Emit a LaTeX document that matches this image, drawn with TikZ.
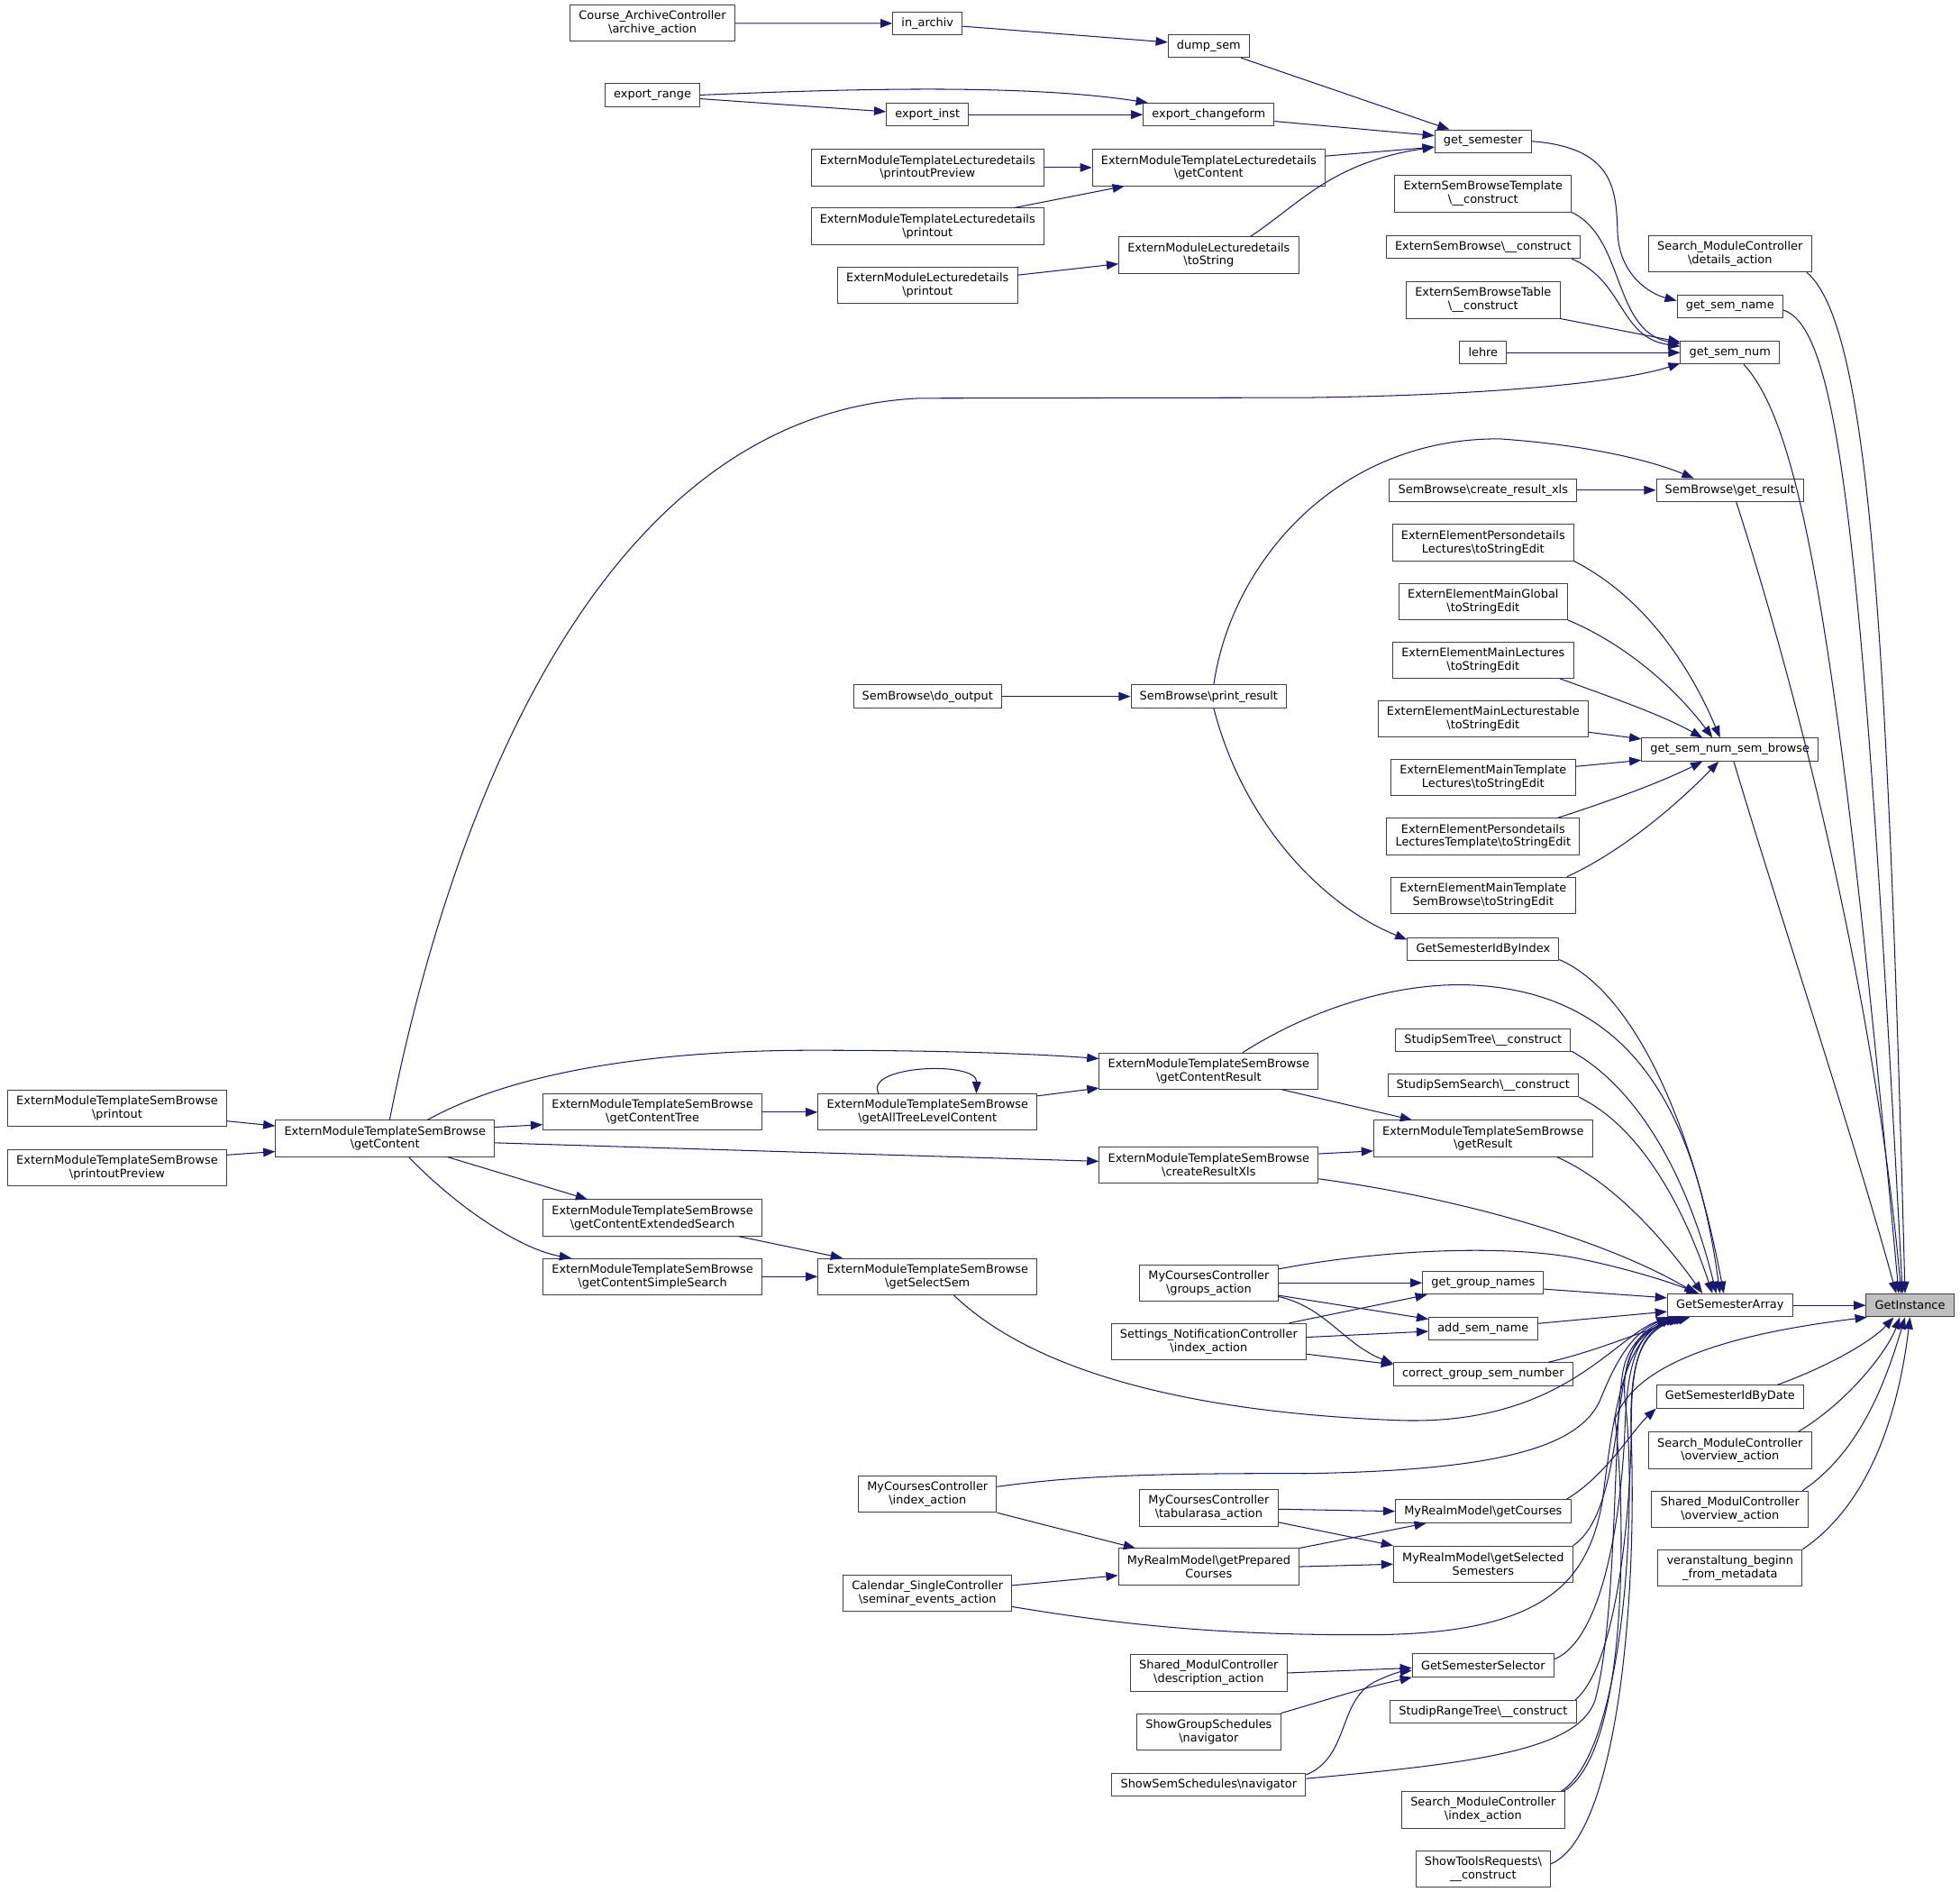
\documentclass[tikz,border=0pt]{standalone}
\usepackage{fontspec}
\setmainfont{DejaVu Sans}
\usetikzlibrary{arrows.meta}
\definecolor{edgeblue}{RGB}{25,25,112}
\newcommand{\bsl}{\textbackslash}
\newcommand{\nfont}{\fontsize{9.3pt}{10.7pt}\selectfont}
\tikzset{
  box/.style={draw=black!75, line width=0.7pt, fill=white, font=\nfont, inner xsep=7pt, inner ysep=0pt, minimum height=18.3pt, align=center},
  two/.style={minimum height=29pt},
  edge/.style={draw=edgeblue, line width=0.75pt, -{Triangle[length=9.5pt,width=7pt]}},
}
\begin{document}
\begin{tikzpicture}[x=1pt,y=-1pt]
\useasboundingbox[fill=white] (0,0) rectangle (1568,1513);
% ---- nodes
\node[box,two] (cac) at (522,18.6) {Course\_ArchiveController\\\bsl archive\_action};
\node[box] (inarch) at (742,18.7) {in\_archiv};
\node[box] (dump) at (967,36.8) {dump\_sem};
\node[box] (exrange) at (522,76) {export\_range};
\node[box] (exinst) at (742,91.7) {export\_inst};
\node[box] (exchg) at (967,91.7) {export\_changeform};
\node[box,two] (ldpp) at (742,134) {ExternModuleTemplateLecturedetails\\\bsl printoutPreview};
\node[box,two] (ldgc) at (967,134) {ExternModuleTemplateLecturedetails\\\bsl getContent};
\node[box,two] (ldpo) at (742,181) {ExternModuleTemplateLecturedetails\\\bsl printout};
\node[box,two] (mlts) at (967,204) {ExternModuleLecturedetails\\\bsl toString};
\node[box,two] (mlpo) at (742,228) {ExternModuleLecturedetails\\\bsl printout};
\node[box] (getsem) at (1186.5,113) {get\_semester};
\node[box,two] (esbt) at (1186.5,155) {ExternSemBrowseTemplate\\\bsl\_\_construct};
\node[box] (esb) at (1186.5,197.5) {ExternSemBrowse\bsl\_\_construct};
\node[box,two] (esbtab) at (1186.5,240) {ExternSemBrowseTable\\\bsl\_\_construct};
\node[box] (lehre) at (1186.5,282) {lehre};
\node[box,two] (smdet) at (1384,203) {Search\_ModuleController\\\bsl details\_action};
\node[box] (gsname) at (1384,245) {get\_sem\_name};
\node[box] (gsnum) at (1384,282) {get\_sem\_num};
\node[box] (crxls) at (1186.5,392) {SemBrowse\bsl create\_result\_xls};
\node[box] (getres) at (1384,392) {SemBrowse\bsl get\_result};
\node[box,two] (ee1) at (1186.5,434) {ExternElementPersondetails\\Lectures\bsl toStringEdit};
\node[box,two] (ee2) at (1186.5,481) {ExternElementMainGlobal\\\bsl toStringEdit};
\node[box,two] (ee3) at (1186.5,528) {ExternElementMainLectures\\\bsl toStringEdit};
\node[box,two] (ee4) at (1186.5,575) {ExternElementMainLecturestable\\\bsl toStringEdit};
\node[box] (gsnsb) at (1384,599.5) {get\_sem\_num\_sem\_browse};
\node[box,two] (ee5) at (1186.5,622) {ExternElementMainTemplate\\Lectures\bsl toStringEdit};
\node[box,two] (ee6) at (1186.5,669) {ExternElementPersondetails\\LecturesTemplate\bsl toStringEdit};
\node[box,two] (ee7) at (1186.5,716) {ExternElementMainTemplate\\SemBrowse\bsl toStringEdit};
\node[box] (doout) at (742,557) {SemBrowse\bsl do\_output};
\node[box] (prres) at (967,557) {SemBrowse\bsl print\_result};
\node[box] (gsidx) at (1186.5,759) {GetSemesterIdByIndex};
\node[box] (sstree) at (1186.5,832) {StudipSemTree\bsl\_\_construct};
\node[box] (sssearch) at (1186.5,868) {StudipSemSearch\bsl\_\_construct};
\node[box,two] (getresult) at (1186.5,910.5) {ExternModuleTemplateSemBrowse\\\bsl getResult};
\node[box,two] (gcr) at (967,856.7) {ExternModuleTemplateSemBrowse\\\bsl getContentResult};
\node[box,two] (gatl) at (742,889.5) {ExternModuleTemplateSemBrowse\\\bsl getAllTreeLevelContent};
\node[box,two] (crx) at (967,931.8) {ExternModuleTemplateSemBrowse\\\bsl createResultXls};
\node[box,two] (gct) at (522,889.5) {ExternModuleTemplateSemBrowse\\\bsl getContentTree};
\node[box,two] (gces) at (522,974) {ExternModuleTemplateSemBrowse\\\bsl getContentExtendedSearch};
\node[box,two] (gcss) at (522,1021) {ExternModuleTemplateSemBrowse\\\bsl getContentSimpleSearch};
\node[box,two] (gss) at (742,1021) {ExternModuleTemplateSemBrowse\\\bsl getSelectSem};
\node[box,two] (sbgc) at (308,910.5) {ExternModuleTemplateSemBrowse\\\bsl getContent};
\node[box,two] (sbpo) at (93.7,886.6) {ExternModuleTemplateSemBrowse\\\bsl printout};
\node[box,two] (sbpp) at (93.7,933.7) {ExternModuleTemplateSemBrowse\\\bsl printoutPreview};
\node[box,two] (grp) at (967,1026) {MyCoursesController\\\bsl groups\_action};
\node[box,two] (setn) at (967,1073) {Settings\_NotificationController\\\bsl index\_action};
\node[box] (ggn) at (1186.5,1026) {get\_group\_names};
\node[box] (asn) at (1186.5,1062.5) {add\_sem\_name};
\node[box] (cgsn) at (1186.5,1099) {correct\_group\_sem\_number};
\node[box] (gsa) at (1384,1044) {GetSemesterArray};
\node[box,fill=black!25] (gi) at (1528,1044) {GetInstance};
\node[box] (gsdate) at (1384,1117) {GetSemesterIdByDate};
\node[box,two] (smov) at (1384,1160) {Search\_ModuleController\\\bsl overview\_action};
\node[box,two] (shov) at (1384,1207) {Shared\_ModulController\\\bsl overview\_action};
\node[box,two] (vb) at (1384,1254) {veranstaltung\_beginn\\\_from\_metadata};
\node[box,two] (mcidx) at (742,1195) {MyCoursesController\\\bsl index\_action};
\node[box,two] (mctab) at (967,1206) {MyCoursesController\\\bsl tabularasa\_action};
\node[box,two] (gpc) at (967,1253) {MyRealmModel\bsl getPrepared\\Courses};
\node[box,two] (cal) at (742,1274) {Calendar\_SingleController\\\bsl seminar\_events\_action};
\node[box] (gc) at (1186.5,1208.7) {MyRealmModel\bsl getCourses};
\node[box,two] (gselsem) at (1186.5,1251) {MyRealmModel\bsl getSelected\\Semesters};
\node[box,two] (shdesc) at (967,1338) {Shared\_ModulController\\\bsl description\_action};
\node[box,two] (sgs) at (967,1385) {ShowGroupSchedules\\\bsl navigator};
\node[box] (sss) at (967,1427.5) {ShowSemSchedules\bsl navigator};
\node[box] (gssel) at (1186.5,1332) {GetSemesterSelector};
\node[box] (srt) at (1186.5,1369) {StudipRangeTree\bsl\_\_construct};
\node[box,two] (smidx) at (1186.5,1447.5) {Search\_ModuleController\\\bsl index\_action};
\node[box,two] (str) at (1186.5,1494.7) {ShowToolsRequests\bsl\\\_\_construct};
% ---- edges (top part)
\draw[edge] (cac.east) -- (inarch.west);
\draw[edge] ([yshift=-2.3pt]inarch.east) -- ([yshift=3pt]dump.west);
\draw[edge] ([xshift=-7pt]dump.south east) -- ([xshift=12pt]getsem.north west);
\draw[edge] (exrange.east) .. controls (680,71) and (820,67) .. ([xshift=4pt]exchg.north west);
\draw[edge] ([yshift=-3pt]exrange.east) -- ([yshift=2.4pt]exinst.west);
\draw[edge] (exinst.east) -- (exchg.west);
\draw[edge] ([yshift=-5.3pt]exchg.east) -- ([yshift=4.5pt]getsem.west);
\draw[edge] (ldpp.east) -- (ldgc.west);
\draw[edge] ([xshift=-24pt]ldpo.north east) -- ([xshift=26pt]ldgc.south west);
\draw[edge] ([yshift=9.2pt]ldgc.east) -- ([yshift=-4.6pt]getsem.west);
\draw[edge] ([yshift=8pt]mlpo.east) -- ([yshift=-7pt]mlts.west);
\draw[edge] ([xshift=-39pt]mlts.north east) .. controls (1040,163) and (1065,130) .. ([yshift=-4.6pt]getsem.west);
\draw[edge] (getsem.east) .. controls (1290,118) and (1293,150) .. (1294,185) .. controls (1295,220) and (1320,235) .. ([yshift=-5pt]gsname.north west);
\draw[edge] (esbt.south east) .. controls (1300,190) and (1290,265) .. ([yshift=7pt]gsnum.west);
\draw[edge] ([xshift=-7pt]esb.south east) .. controls (1300,225) and (1295,270) .. ([yshift=5pt]gsnum.west);
\draw[edge] (esbtab.south east) -- ([yshift=8.5pt]gsnum.west);
\draw[edge] (lehre.east) -- (gsnum.west);
\draw[edge] ([xshift=3.7pt]sbgc.north) .. controls (360,650) and (480,330) .. (736,318.5) -- (1045,318) .. controls (1200,316) and (1300,305) .. ([yshift=-8.5pt]gsnum.west);
\draw[edge] ([xshift=-4pt]smdet.south east) .. controls (1495,260) and (1510,500) .. ([xshift=-4pt]gi.north);
\draw[edge] ([yshift=-3pt]gsname.east) .. controls (1470,262) and (1490,420) .. ([xshift=-6pt]gi.north);
\draw[edge] ([xshift=11pt]gsnum.south) .. controls (1440,340) and (1470,500) .. ([xshift=-9pt]gi.north);
\draw[edge] ([xshift=5pt]getres.south) .. controls (1440,560) and (1500,800) .. ([xshift=-7pt]gi.north);
\draw[edge] ([xshift=3pt]gsnsb.south) .. controls (1420,720) and (1480,900) .. ([xshift=-11pt]gi.north);
\draw[edge] (crxls.east) -- (getres.west);
\draw[edge] ([xshift=4pt]prres.north) .. controls (985,450) and (1070,350) .. (1200,351) .. controls (1270,356) and (1320,368) .. ([xshift=-29pt]getres.north);
\draw[edge] (doout.east) -- (prres.west);
\draw[edge] (ee1.south east) .. controls (1320,480) and (1355,540) .. ([xshift=-8pt]gsnsb.north);
\draw[edge] (ee2.south east) .. controls (1300,515) and (1340,550) .. ([xshift=-14pt]gsnsb.north);
\draw[edge] ([xshift=-11pt]ee3.south east) .. controls (1290,558) and (1330,572) .. ([xshift=-22pt]gsnsb.north);
\draw[edge] ([yshift=-10.6pt]ee4.east) -- ([yshift=-1pt]gsnsb.north west);
\draw[edge] ([yshift=9pt]ee5.east) -- ([yshift=1pt]gsnsb.south west);
\draw[edge] ([xshift=-18pt]ee6.north east) .. controls (1290,640) and (1330,625) .. ([xshift=-22pt]gsnsb.south);
\draw[edge] ([xshift=-7pt]ee7.north east) .. controls (1300,680) and (1345,640) .. ([xshift=-9pt]gsnsb.south);
\draw[edge] ([xshift=4pt]prres.south) .. controls (995,660) and (1060,725) .. ([yshift=-2pt]gsidx.north west);
% ---- middle part
\draw[edge] ([yshift=1pt]gsidx.south east) .. controls (1300,790) and (1350,880) .. ([xshift=-5pt]gsa.north);
\draw[edge] ([xshift=27pt]gcr.north) .. controls (1060,800) and (1130,785) .. (1180,788) .. controls (1300,795) and (1355,880) .. ([xshift=-8pt]gsa.north);
\draw[edge] ([yshift=1pt]sstree.south east) .. controls (1310,870) and (1350,940) .. ([xshift=-11pt]gsa.north);
\draw[edge] (sssearch.south east) .. controls (1310,900) and (1345,960) .. ([xshift=-14pt]gsa.north);
\draw[edge] ([xshift=59pt]gcr.south) -- ([xshift=31pt]getresult.north west);
\draw[edge] ([xshift=59pt]getresult.south) .. controls (1290,945) and (1330,990) .. ([xshift=-22pt]gsa.north);
\draw[edge] ([yshift=9pt]crx.east) -- ([yshift=-10pt]getresult.west);
\draw[edge] ([yshift=-11pt]crx.east) .. controls (1180,960) and (1290,995) .. ([xshift=-27pt]gsa.north);
\draw[edge] ([xshift=34pt]sbgc.north) .. controls (410,858) and (520,840) .. (650,840) .. controls (760,840) and (830,843) .. ([yshift=10pt]gcr.west);
\draw[edge] ([yshift=9pt]sbgc.east) -- ([yshift=-10pt]gct.west);
\draw[edge] (gct.east) -- (gatl.west);
\draw[edge] ([xshift=-39pt]gatl.north) .. controls (690,852) and (782,848) .. ([xshift=39pt]gatl.north);
\draw[edge] ([yshift=13pt]gatl.east) -- ([yshift=-13.5pt]gcr.west);
\draw[edge] ([yshift=-3.5pt]sbgc.east) -- ([yshift=3pt]crx.west);
\draw[edge] ([xshift=50pt]sbgc.south) -- ([xshift=-52pt]gces.north);
\draw[edge] ([xshift=19pt]sbgc.south) .. controls (370,970) and (420,1000) .. ([xshift=-65pt]gcss.north);
\draw[edge] ([yshift=-10pt]sbpo.east) -- ([yshift=10pt]sbgc.west);
\draw[edge] ([yshift=10pt]sbpp.east) -- ([yshift=-10.5pt]sbgc.west);
\draw[edge] ([xshift=69pt]gces.south) -- ([xshift=-68pt]gss.north);
\draw[edge] (gcss.east) -- (gss.west);
\draw[edge] ([xshift=21pt]gss.south) .. controls (830,1100) and (960,1130) .. (1120,1136) .. controls (1250,1140) and (1290,1070) .. ([xshift=1pt]gsa.south west);
\draw[edge] ([yshift=11pt]grp.east) .. controls (1100,1000) and (1200,995) .. (1260,1006) .. controls (1300,1014) and (1335,1025) .. ([xshift=-25pt]gsa.north);
\draw[edge] (grp.east) -- (ggn.west);
\draw[edge] ([yshift=-10pt]grp.east) -- ([yshift=7.5pt]asn.west);
\draw[edge] ([yshift=-11pt]grp.east) .. controls (1060,1045) and (1075,1075) .. ([yshift=-1pt]cgsn.north west);
\draw[edge] ([xshift=-14pt]setn.north east) -- ([xshift=4pt]ggn.south west);
\draw[edge] ([yshift=3.5pt]setn.east) -- ([yshift=-2.3pt]asn.west);
\draw[edge] ([yshift=-10pt]setn.east) -- ([yshift=7.7pt]cgsn.west);
\draw[edge] ([yshift=-5pt]ggn.east) -- ([yshift=6pt]gsa.west);
\draw[edge] ([yshift=4pt]asn.east) -- ([yshift=-5pt]gsa.west);
\draw[edge] ([xshift=52pt]cgsn.north) .. controls (1280,1080) and (1320,1062) .. ([xshift=-32pt]gsa.south);
\draw[edge] (gsa.east) -- (gi.west);
\draw[edge] ([xshift=38pt]gsdate.north) .. controls (1470,1090) and (1500,1070) .. ([xshift=-13pt]gi.south);
\draw[edge] ([xshift=-11pt]smov.north east) .. controls (1480,1120) and (1510,1080) .. ([xshift=-8pt]gi.south);
\draw[edge] ([xshift=-5pt]shov.north east) .. controls (1490,1160) and (1510,1100) .. ([xshift=-4pt]gi.south);
\draw[edge] (vb.north east) .. controls (1500,1200) and (1520,1120) .. (gi.south);
% ---- bottom part
\draw[edge] ([yshift=6pt]mcidx.east) .. controls (850,1182) and (900,1178) .. (1045,1178.5) .. controls (1190,1176) and (1262,1160) .. (1280,1120) .. controls (1292,1090) and (1305,1066) .. ([xshift=2pt]gsa.south west);
\draw[edge] (mcidx.south east) -- ([xshift=14pt]gpc.north west);
\draw[edge] ([yshift=-1pt]mctab.east) -- (gc.west);
\draw[edge] ([yshift=-11.5pt]mctab.east) -- (gselsem.north west);
\draw[edge] (gpc.north east) -- ([xshift=25pt]gc.south west);
\draw[edge] (gpc.east) -- (gselsem.west);
\draw[edge] ([yshift=6pt]cal.east) -- ([yshift=-7pt]gpc.west);
\draw[edge] ([yshift=-11pt]cal.east) .. controls (900,1300) and (980,1308) .. (1100,1307.5) .. controls (1230,1306) and (1270,1270) .. (1282,1200) .. controls (1292,1120) and (1300,1075) .. ([xshift=4pt]gsa.south west);
\draw[edge] ([xshift=-4pt]gc.north east) .. controls (1285,1180) and (1305,1145) .. (gsdate.south west);
\draw[edge] (gselsem.north east) .. controls (1290,1215) and (1292,1140) .. (1300,1100) .. controls (1306,1075) and (1312,1064) .. ([xshift=6pt]gsa.south west);
\draw[edge] (shdesc.east) -- ([yshift=-2pt]gssel.west);
\draw[edge] (sgs.north east) .. controls (1060,1360) and (1090,1350) .. (gssel.south west);
\draw[edge] ([yshift=8pt]sss.east) .. controls (1080,1405) and (1070,1360) .. (1100,1345) .. controls (1110,1340) and (1120,1337) .. ([yshift=-4pt]gssel.west);
\draw[edge] ([yshift=5pt]sss.east) .. controls (1180,1410) and (1262,1400) .. (1276,1360) .. controls (1295,1290) and (1290,1120) .. (1300,1090) .. controls (1305,1075) and (1315,1063) .. ([xshift=12pt]gsa.south west);
\draw[edge] ([yshift=5pt]gssel.east) .. controls (1285,1310) and (1298,1200) .. (1300,1140) .. controls (1302,1090) and (1310,1066) .. ([xshift=8pt]gsa.south west);
\draw[edge] ([xshift=-1pt]srt.north east) .. controls (1295,1330) and (1305,1200) .. (1305,1140) .. controls (1305,1090) and (1312,1066) .. ([xshift=10pt]gsa.south west);
\draw[edge] ([xshift=-3pt]smidx.north east) .. controls (1300,1400) and (1310,1200) .. (1300,1120) .. controls (1297,1085) and (1310,1064) .. ([xshift=14pt]gsa.south west);
\draw[edge] ([xshift=-1pt]smidx.north east) .. controls (1305,1400) and (1300,1200) .. (1292,1135) .. controls (1310,1085) and (1400,1065) .. ([xshift=1pt]gi.south west);
\draw[edge] ([yshift=4pt]str.east) .. controls (1290,1470) and (1310,1300) .. (1305,1150) .. controls (1303,1090) and (1312,1064) .. ([xshift=16pt]gsa.south west);
\end{tikzpicture}
\end{document}
